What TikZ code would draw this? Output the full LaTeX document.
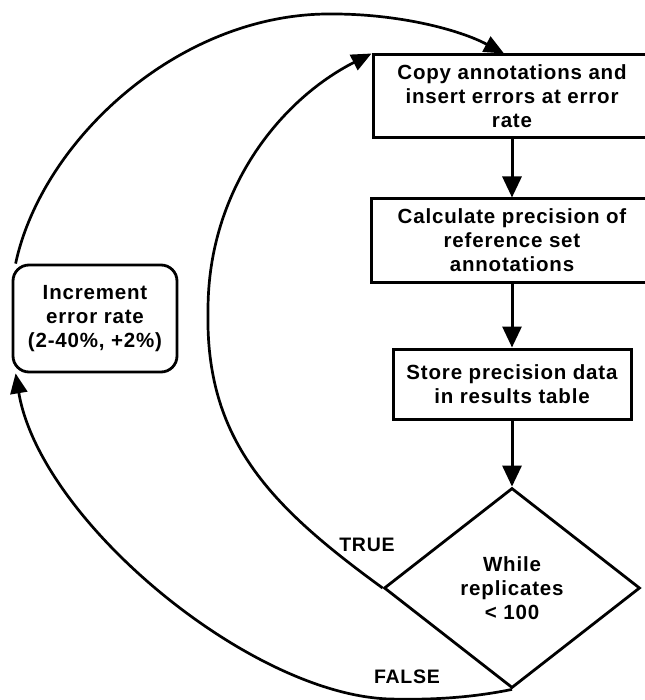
\documentclass[tikz,border=0pt]{standalone}
\usepackage{fontspec}
\setmainfont{Liberation Sans}[LetterSpace=4]
\usetikzlibrary{shapes.geometric,arrows.meta}
\begin{document}
\begin{tikzpicture}[x=1pt,y=-1pt,
  txt/.style={font=\fontsize{20.5}{24}\selectfont\bfseries, align=center},
  procbox/.style={txt, draw, line width=3pt, inner sep=0pt},
  decbox/.style={txt, draw, diamond, line width=2.8pt, inner sep=0pt, minimum width=256pt, minimum height=200pt},
  roundbox/.style={txt, draw, rounded corners=16pt, line width=2.8pt, inner sep=0pt, minimum width=164pt, minimum height=107pt},
  flow/.style={line width=3pt, -{Triangle[length=21pt,width=19pt]}},
  loop/.style={line width=2.7pt, -{Triangle[length=20pt,width=17pt]}},
  lbl/.style={font=\fontsize{19.5}{22}\selectfont\bfseries}]
\useasboundingbox (0,0) rectangle (644,700);
\node[procbox, minimum width=278pt, minimum height=83pt] (b1) at (512,96.5) {Copy annotations and\\insert errors at error\\rate};
\node[procbox, minimum width=282pt, minimum height=83pt] (b2) at (512,240.5) {Calculate precision of\\reference set\\annotations};
\node[procbox, minimum width=238pt, minimum height=70pt] (b3) at (512,384) {Store precision data\\in results table};
\node[decbox] (d) at (512,588) {While\\replicates\\{<} 100};
\node[roundbox] (inc) at (95,318.5) {Increment\\error rate\\(2-40\%, +2\%)};
\node[lbl] (true) at (367,545) {TRUE};
\node[lbl] (false) at (407,677) {FALSE};
\draw[flow] (b1.south) -- (b2.north);
\draw[flow] (b2.south) -- (b3.north);
\draw[flow] (b3.south) -- (d.north);
\draw[loop] (d.west) .. controls (270,506) and (205,440) .. (208,310)
  .. controls (208,190) and (280,100) .. (b1.north west);
\draw[loop] (d.south) .. controls (470,698) and (430,700) .. (390,699)
  .. controls (250,695) and (40,520) .. ([xshift=4pt]inc.south west);
\draw[loop] ([xshift=4pt]inc.north west) .. controls (42,140) and (180,12) .. (333,14)
  .. controls (400,14) and (460,30) .. ([xshift=-8pt]b1.north);
\end{tikzpicture}
\end{document}
